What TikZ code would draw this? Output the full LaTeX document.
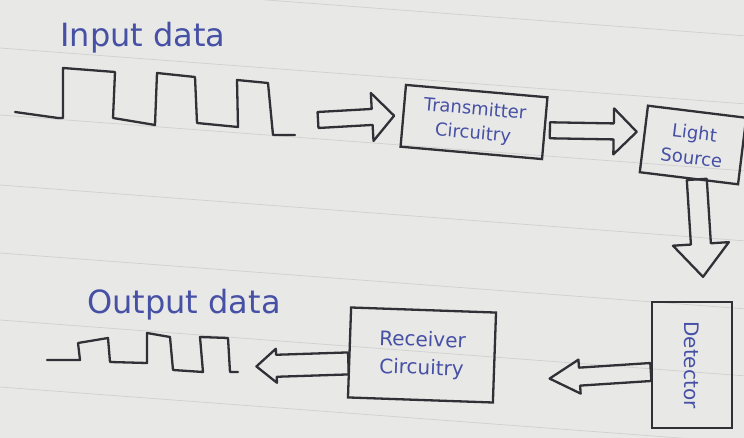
\documentclass[tikz,border=0pt]{standalone}
\usepackage{fontspec}
\setmainfont{DejaVu Sans}
\usetikzlibrary{calc}
\definecolor{ink}{RGB}{48,48,54}
\definecolor{pen}{RGB}{70,80,165}
\definecolor{paper}{RGB}{232,232,230}
\definecolor{ruling}{RGB}{210,210,210}
% hollow block arrow: start, end, shaft half-width, head half-width, head length
\newcommand{\hollowarr}[5]{%
  \coordinate (hs) at (#1);
  \coordinate (he) at (#2);
  \coordinate (hb) at ($(he)!#5!(hs)$);
  \draw[wire] ($(hs)!#3!90:(he)$) -- ($(hb)!#3!90:(he)$) -- ($(hb)!#4!90:(he)$)
     -- (he) -- ($(hb)!#4!-90:(he)$) -- ($(hb)!#3!-90:(he)$) -- ($(hs)!#3!-90:(he)$) -- cycle;}
\begin{document}
\begin{tikzpicture}[x=1pt,y=-1pt,
  wire/.style={draw=ink,line width=2.3pt,line join=round,line cap=round},
  box/.style={draw=ink,line width=2.3pt,rectangle,inner sep=2pt,text=pen,align=center},
  lbl/.style={text=pen,inner sep=0pt}]
\fill[paper] (0,0) rectangle (744,438);
\useasboundingbox (0,0) rectangle (744,438);
\foreach \yy in {-20,48,115,185,253,320,387,455}
  \draw[ruling,line width=0.8pt] (0,\yy) -- (744,\yy+55.8);

% labels
\node[lbl,font=\fontsize{32}{36}\selectfont] (inlbl) at (143,38) {Input data};
\node[lbl,font=\fontsize{32}{36}\selectfont] (outlbl) at (184,305) {Output data};

% boxes
\node[box,minimum width=142pt,minimum height=62pt,rotate=-5,
      font=\fontsize{18}{24}\selectfont] (tx) at (474,122) {Transmitter\\Circuitry};
\node[box,minimum width=99pt,minimum height=67pt,rotate=-7,
      font=\fontsize{18}{25}\selectfont] (ls) at (693,145) {Light\\Source};
\node[box,minimum width=126pt,minimum height=80pt,rotate=-90,
      font=\fontsize{20}{22}\selectfont] (det) at (692,365) {Detector};
\node[box,minimum width=145pt,minimum height=90pt,rotate=-2,
      font=\fontsize{20}{28}\selectfont] (rx) at (422,355) {Receiver\\Circuitry};

% input waveform
\draw[wire] (15,112) -- (58,118) -- (63,118) -- (63,68) -- (115,72) -- (113,118)
  -- (155,125) -- (157,73) -- (195,77) -- (197,123) -- (238,127) -- (237,80)
  -- (268,83) -- (273,135) -- (295,135);
% output waveform
\draw[wire] (47,360) -- (80,360) -- (78,343) -- (108,338) -- (110,362) -- (147,363)
  -- (147,333) -- (170,337) -- (173,370) -- (203,372) -- (200,337) -- (228,338)
  -- (230,372) -- (238,372);

% hollow arrows
\coordinate (a1s) at (318,120);
\hollowarr{a1s}{$(tx.west)+(-8,0)$}{8pt}{24pt}{22pt}
\hollowarr{$(tx.east)+(4,2)$}{$(ls.west)+(-6,-7)$}{8pt}{23pt}{23pt}
\hollowarr{$(ls.south)+(8,0)$}{$(det.west)+(11,-24)$}{10pt}{28pt}{33pt}
\hollowarr{$(det.south)+(0,7)$}{$(rx.east)+(54,21)$}{9pt}{17pt}{30pt}
\hollowarr{$(rx.west)+(0,11)$}{$(rx.west)+(-92,14)$}{11pt}{17pt}{20pt}
\end{tikzpicture}
\end{document}
